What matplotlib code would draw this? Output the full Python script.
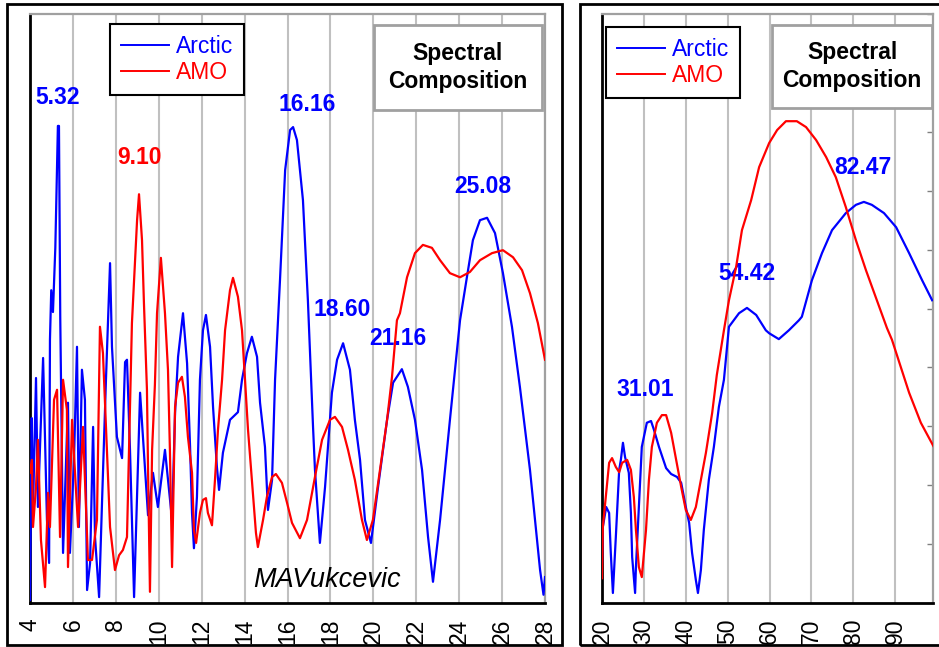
import matplotlib
matplotlib.use("Agg")
import matplotlib.pyplot as plt
from matplotlib.patches import Rectangle

plt.rcParams['font.family'] = ['Liberation Sans', 'DejaVu Sans']

# ---- short periods (years), left panel ----
arctic_short_x = [4.00, 4.08, 4.14, 4.28, 4.37, 4.61, 4.79, 4.89, 4.93, 4.99, 5.07, 5.18, 5.30, 5.35,
                  5.41, 5.54, 5.77, 5.86, 6.05, 6.19, 6.28, 6.42, 6.56, 6.66, 6.80, 6.94, 7.03, 7.22,
                  7.36, 7.54, 7.73, 7.82, 8.05, 8.29, 8.43, 8.52, 8.66, 8.85, 9.13, 9.50, 9.73, 9.96,
                  10.29, 10.62, 10.76, 10.90, 11.13, 11.32, 11.46, 11.55, 11.64, 11.78, 11.92, 12.06,
                  12.20, 12.39, 12.53, 12.71, 12.81, 12.99, 13.32, 13.69, 13.88, 14.11, 14.34, 14.58,
                  14.72, 14.95, 15.09, 15.28, 15.42, 15.65, 15.89, 16.12, 16.26, 16.44, 16.72, 16.95,
                  17.19, 17.28, 17.51, 17.75, 18.07, 18.31, 18.59, 18.91, 19.14, 19.38, 19.61, 19.89,
                  20.22, 20.64, 20.92, 21.33, 21.61, 21.94, 22.27, 22.55, 22.78, 23.11, 23.57, 24.04,
                  24.36, 24.64, 24.97, 25.30, 25.67, 26.04, 26.46, 26.83, 27.30, 27.77, 27.93, 28.00]
arctic_short_y = [0.5, 31.4, 15.8, 38.2, 16.3, 41.6, 14.1, 6.8, 44.7, 53.1, 49.4, 60.3, 81.0, 81.0,
                  48.4, 8.5, 34.0, 8.5, 24.3, 43.5, 12.9, 39.6, 34.5, 2.2, 6.8, 29.9, 11.2, 1.0,
                  17.5, 37.9, 57.7, 43.5, 28.2, 24.6, 40.9, 41.3, 26.0, 1.0, 35.7, 14.9, 22.1, 16.3,
                  26.0, 14.1, 32.3, 41.8, 49.2, 40.7, 26.5, 15.3, 9.3, 18.0, 37.9, 46.3,
                  48.9, 43.5, 33.3, 23.1, 19.2, 25.5, 31.1, 32.4, 37.9, 42.4, 45.2, 41.8,
                  34.0, 26.5, 15.8, 20.9, 37.9, 54.8, 73.5, 80.3, 80.8, 78.6, 68.4, 51.4,
                  29.9, 22.6, 10.2, 19.7, 35.7, 41.3, 44.1, 39.6, 31.1, 24.3, 14.1, 10.2,
                  19.7, 31.1, 37.4, 39.7, 36.7, 31.1, 22.6, 11.2, 3.6, 14.1, 31.1, 48.0,
                  55.3, 61.6, 65.0, 65.4, 62.8, 56.0, 46.9, 36.7, 22.6, 5.6, 1.4, 4.4]

amo_short_x = [4.00, 4.09, 4.14, 4.28, 4.37, 4.51, 4.70, 4.84, 4.93, 5.12, 5.26, 5.40, 5.54, 5.72,
               5.77, 5.96, 6.24, 6.47, 6.70, 6.89, 7.12, 7.26, 7.40, 7.59, 7.73, 7.96, 8.15, 8.33,
               8.52, 8.75, 8.89, 8.99, 9.08, 9.22, 9.31, 9.45, 9.50, 9.59, 9.69, 9.82, 9.92, 10.10,
               10.29, 10.43, 10.52, 10.62, 10.76, 10.90, 11.08, 11.22, 11.36, 11.55, 11.64, 11.74,
               11.92, 12.06, 12.20, 12.29, 12.48, 12.62, 12.76, 12.95, 13.09, 13.32, 13.46, 13.69,
               13.88, 14.02, 14.16, 14.34, 14.53, 14.62, 14.86, 15.04, 15.28, 15.46, 15.74, 15.98,
               16.21, 16.58, 16.91, 17.28, 17.61, 17.98, 18.21, 18.54, 18.82, 19.14, 19.47, 19.70,
               19.98, 20.31, 20.64, 20.87, 21.10, 21.24, 21.57, 21.94, 22.31, 22.73, 23.11, 23.57,
               24.04, 24.50, 24.97, 25.53, 26.04, 26.51, 26.93, 27.30, 27.67, 28.00]
amo_short_y = [22.1, 24.3, 12.9, 19.7, 27.7, 10.7, 2.7, 18.7, 12.9, 34.5, 36.2, 11.2, 37.9, 32.8,
               6.1, 31.1, 12.9, 29.9, 7.3, 7.3, 14.1, 46.9, 42.4, 25.5, 12.9, 5.6, 8.1, 9.0,
               11.2, 47.5, 57.7, 65.0, 69.4, 61.6, 50.9, 36.2, 22.9, 1.9, 26.0, 37.0, 49.2, 58.6,
               49.2, 39.6, 26.0, 6.1, 33.3, 37.4, 38.4, 35.0, 28.2, 22.1, 12.4, 10.2,
               15.3, 17.5, 17.8, 15.3, 13.2, 20.9, 29.4, 37.9, 46.3, 53.1, 55.2, 52.0,
               46.3, 37.9, 29.4, 20.9, 11.9, 9.5, 14.1, 18.0, 21.4, 21.9, 20.4, 17.0,
               13.6, 11.0, 14.1, 21.4, 27.7, 31.1, 31.6, 29.9, 26.0, 20.9, 14.1, 10.7,
               14.1, 22.6, 31.1, 38.4, 48.0, 49.2, 55.3, 59.4, 60.8, 60.3, 58.2, 56.0,
               55.3, 56.2, 58.2, 59.4, 59.9, 58.7, 56.5, 52.6, 47.5, 41.3]

# ---- long periods (years), right panel ----
arctic_long_x = [20.0, 20.2, 21.0, 21.7, 22.1, 22.6, 23.3, 24.1, 24.5, 25.0, 25.5, 26.4, 26.9, 27.2,
                 27.9, 28.1, 28.8, 29.5, 30.7, 31.7, 32.4, 33.6, 35.3, 36.5, 37.9, 38.9, 40.0, 40.8,
                 41.5, 42.4, 42.9, 43.6, 44.3, 45.5, 46.7, 47.9, 49.1, 50.3, 52.7, 54.6, 56.8, 59.1,
                 59.9, 62.2, 64.6, 67.0, 67.7, 70.1, 72.5, 74.9, 78.2, 80.6, 82.5, 84.4, 87.3, 90.2,
                 93.3, 96.4, 98.8]
arctic_long_y = [6.8, 12.9, 16.3, 15.3, 8.5, 1.7, 11.2, 22.6, 24.3, 27.2, 24.8, 22.1, 15.3, 7.8,
                 1.7, 6.1, 16.3, 26.5, 30.6, 30.9, 29.4, 26.5, 22.9, 21.9, 21.4, 20.4, 16.3, 13.6,
                 8.5, 3.9, 1.7, 5.6, 12.4, 20.9, 26.5, 33.3, 37.9, 46.9, 49.2, 50.1, 48.9, 46.3,
                 45.8, 44.8, 46.3, 48.0, 48.6, 54.8, 59.4, 63.3, 66.2, 67.6, 68.1, 67.6, 66.2, 63.8,
                 59.4, 54.8, 51.4]

amo_long_x = [20.0, 20.2, 21.0, 21.7, 22.4, 23.3, 24.1, 24.8, 26.0, 26.9, 27.6, 28.1, 28.8, 29.5,
              30.5, 31.2, 31.9, 33.1, 34.3, 35.3, 36.5, 37.7, 38.9, 40.0, 41.2, 42.4, 43.6, 44.8,
              46.3, 47.4, 49.1, 50.3, 52.0, 53.4, 55.6, 57.5, 59.9, 61.8, 63.9, 66.5, 68.7, 71.1,
              73.5, 75.8, 78.2, 80.6, 83.0, 85.6, 88.0, 89.2, 93.3, 96.1, 99.2]
amo_long_y = [4.2, 12.9, 18.7, 23.8, 24.6, 23.1, 22.2, 23.8, 24.3, 22.6, 18.0, 12.4, 6.1, 4.4,
              12.4, 20.9, 26.5, 30.6, 31.9, 31.9, 28.9, 24.3, 19.7, 15.8, 14.1, 16.3, 20.9, 25.5,
              32.3, 38.7, 46.3, 51.4, 57.0, 63.3, 68.4, 74.0, 78.1, 80.3, 81.8, 81.8, 80.8, 78.6,
              75.7, 72.3, 67.2, 61.6, 56.5, 51.4, 46.7, 44.7, 35.7, 30.6, 26.5]

short_ticks = list(range(4, 29, 2))
long_ticks = list(range(20, 91, 10))

# peak labels: text, x, y, colour
short_peaks = [("5.32", 5.30, 85.9, "blue"), ("9.10", 9.08, 75.6, "red"),
               ("16.16", 16.93, 84.7, "blue"), ("18.60", 18.56, 49.9, "blue"),
               ("21.16", 21.15, 44.9, "blue"), ("25.08", 25.09, 70.7, "blue")]
long_peaks = [("31.01", 30.3, 36.3, "blue"), ("54.42", 54.6, 55.9, "blue"),
              ("82.47", 82.2, 74.0, "blue")]

BLUE = "#0000ff"
RED = "#ff0000"
W, H = 939, 647

fig = plt.figure(figsize=(W / 100, H / 100), dpi=100)
fig.patch.set_facecolor("white")

# outer frames round each panel
fig.add_artist(Rectangle((7 / W, 2 / H), 555 / W, 641 / H, transform=fig.transFigure,
                         fill=False, ec="black", lw=2))
fig.add_artist(Rectangle((580 / W, 2 / H), 420 / W, 641 / H, transform=fig.transFigure,
                         fill=False, ec="black", lw=2))

ax1 = fig.add_axes([30 / W, 44 / H, 515 / W, 589 / H])
ax2 = fig.add_axes([602 / W, 44 / H, 331 / W, 589 / H])


def style(ax, xlim, ticks):
    ax.set_xlim(*xlim)
    ax.set_ylim(0, 100)
    ax.set_xticks(ticks)
    ax.set_xticklabels([str(t) for t in ticks])
    ax.tick_params(axis="x", length=0, pad=11, labelsize=16.5, labelrotation=90)
    ax.set_yticks([])
    ax.grid(axis="x", color="#c0c0c0", lw=1.5)
    ax.set_axisbelow(True)
    for s in ["left", "bottom"]:
        ax.spines[s].set_color("black")
        ax.spines[s].set_linewidth(2)
    for s in ["top", "right"]:
        ax.spines[s].set_color("#a0a0a0")
        ax.spines[s].set_linewidth(1.6)


def title_box(ax, x0, x1, y0, y1):
    ax.add_patch(Rectangle((x0, y0), x1 - x0, y1 - y0, transform=ax.transAxes,
                           fc="white", ec="#a0a0a0", lw=2, zorder=5))
    ax.text((x0 + x1) / 2, (y0 + y1) / 2, "Spectral\nComposition", transform=ax.transAxes,
            ha="center", va="center", fontsize=16.5, fontweight="bold",
            linespacing=1.3, zorder=6)


def add_legend(ax, x, y):
    leg = ax.legend(loc="upper left", bbox_to_anchor=(x, y), frameon=True, fancybox=False,
                    edgecolor="black", framealpha=1, fontsize=16.5, labelcolor="linecolor",
                    handlelength=2.1, handletextpad=0.3, borderpad=0.48, labelspacing=0.12,
                    borderaxespad=0)
    leg.get_frame().set_linewidth(1.5)
    leg.set_zorder(7)
    for line in leg.get_lines():
        line.set_linewidth(1.4)


# left panel
style(ax1, (4, 28), short_ticks)
ax1.plot(arctic_short_x, arctic_short_y, color=BLUE, lw=1.6, label="Arctic", zorder=3)
ax1.plot(amo_short_x, amo_short_y, color=RED, lw=1.6, label="AMO", zorder=3)
for s, x, y, c in short_peaks:
    ax1.text(x, y, s, color=c, fontsize=16.5, fontweight="bold", ha="center", va="center", zorder=2)
ax1.text(14.39, 2.7, "MAVukcevic", fontsize=19.5, style="italic", ha="left", va="baseline", zorder=4)
title_box(ax1, 0.668, 0.994, 0.837, 0.981)
add_legend(ax1, 0.155, 0.983)

# right panel
style(ax2, (20, 99), long_ticks)
ax2.yaxis.tick_right()
ax2.set_yticks(range(0, 101, 10))
ax2.tick_params(axis="y", direction="in", length=4, width=1, color="#808080", labelright=False)
ax2.plot(arctic_long_x, arctic_long_y, color=BLUE, lw=1.6, label="Arctic", zorder=3)
ax2.plot(amo_long_x, amo_long_y, color=RED, lw=1.6, label="AMO", zorder=3)
for s, x, y, c in long_peaks:
    ax2.text(x, y, s, color=c, fontsize=16.5, fontweight="bold", ha="center", va="center", zorder=2)
title_box(ax2, 0.514, 0.997, 0.840, 0.981)
add_legend(ax2, 0.012, 0.978)

fig.savefig("out.png", dpi=100)
